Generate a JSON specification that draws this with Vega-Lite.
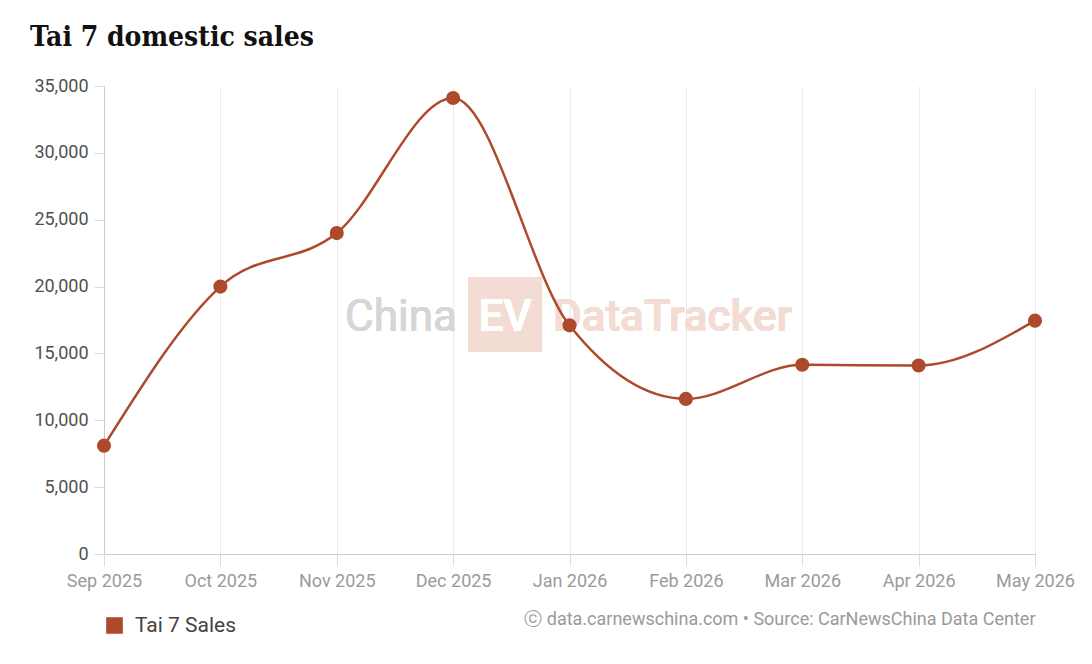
{
  "$schema": "https://vega.github.io/schema/vega-lite/v6.json",
  "width": 931,
  "height": 468,
  "autosize": {"type": "none"},
  "padding": {"left": 104, "top": 86, "right": 57, "bottom": 110},
  "background": "white",
  "title": {
    "text": "Tai 7 domestic sales",
    "anchor": "start",
    "frame": "group",
    "font": "DejaVu Serif Condensed",
    "fontSize": 28,
    "fontWeight": "bold",
    "color": "#111111",
    "dx": -74,
    "offset": 25
  },
  "config": {
    "view": {"stroke": null},
    "font": "Roboto"
  },
  "data": {
    "values": [
      {"month": "Sep 2025", "sales": 8100, "series": "Tai 7 Sales"},
      {"month": "Oct 2025", "sales": 20000, "series": "Tai 7 Sales"},
      {"month": "Nov 2025", "sales": 24000, "series": "Tai 7 Sales"},
      {"month": "Dec 2025", "sales": 34100, "series": "Tai 7 Sales"},
      {"month": "Jan 2026", "sales": 17100, "series": "Tai 7 Sales"},
      {"month": "Feb 2026", "sales": 11600, "series": "Tai 7 Sales"},
      {"month": "Mar 2026", "sales": 14150, "series": "Tai 7 Sales"},
      {"month": "Apr 2026", "sales": 14100, "series": "Tai 7 Sales"},
      {"month": "May 2026", "sales": 17450, "series": "Tai 7 Sales"}
    ]
  },
  "layer": [
    {
      "layer": [
        {
          "mark": {"type": "rect", "color": "#f3dcd3"},
          "encoding": {
            "x": {"datum": 3.128, "type": "quantitative", "scale": {"domain": [0, 8]}, "axis": null},
            "x2": {"datum": 3.764},
            "y": {"datum": 20720, "type": "quantitative"},
            "y2": {"datum": 15110}
          }
        },
        {
          "mark": {"type": "text", "text": "China", "fontSize": 44, "color": "#d6d6d6", "align": "center", "baseline": "alphabetic"},
          "encoding": {
            "x": {"datum": 2.552, "type": "quantitative"},
            "y": {"datum": 16650, "type": "quantitative"}
          }
        },
        {
          "mark": {"type": "text", "text": "EV", "fontSize": 44, "fontWeight": 500, "color": "#ffffff", "align": "center", "baseline": "alphabetic"},
          "encoding": {
            "x": {"datum": 3.446, "type": "quantitative"},
            "y": {"datum": 16650, "type": "quantitative"}
          }
        },
        {
          "mark": {"type": "text", "text": "DataTracker", "fontSize": 44, "fontWeight": 500, "color": "#f3dcd3", "align": "left", "baseline": "alphabetic"},
          "encoding": {
            "x": {"datum": 3.858, "type": "quantitative"},
            "y": {"datum": 16650, "type": "quantitative"}
          }
        }
      ]
    },
    {
      "mark": {
        "type": "line",
        "interpolate": "monotone",
        "strokeWidth": 2.5,
        "point": {"filled": true, "size": 200, "opacity": 1}
      },
      "encoding": {
        "x": {
          "field": "month",
          "type": "ordinal",
          "sort": null,
          "scale": {"type": "point", "padding": 0},
          "axis": {
            "orient": "bottom",
            "labelAngle": 0,
            "labelFontSize": 18,
            "labelColor": "#9a9a9a",
            "labelPadding": 6,
            "tickColor": "#dddddd",
            "tickSize": 12,
            "domainColor": "#cccccc",
            "grid": true,
            "gridColor": "#ebebeb",
            "title": "ⓒ data.carnewschina.com • Source: CarNewsChina Data Center",
            "titleFontSize": 18,
            "titleFontWeight": "normal",
            "titleColor": "#9a9a9a",
            "titleAnchor": "end",
            "titleAlign": "right",
            "titleBaseline": "middle",
            "titleX": 931,
            "titleY": 65
          }
        },
        "y": {
          "field": "sales",
          "type": "quantitative",
          "scale": {"domain": [0, 35000], "nice": false},
          "axis": {
            "values": [0, 5000, 10000, 15000, 20000, 25000, 30000, 35000],
            "format": ",d",
            "title": null,
            "labelFontSize": 18,
            "labelColor": "#505050",
            "labelPadding": 6,
            "tickColor": "#dddddd",
            "tickSize": 10,
            "domainColor": "#cccccc",
            "gridColor": "#ebebeb"
          }
        },
        "color": {
          "field": "series",
          "type": "nominal",
          "scale": {"range": ["#ad4a2c"]},
          "legend": {
            "title": null,
            "orient": "none",
            "legendX": 0,
            "legendY": 529,
            "symbolType": "square",
            "symbolSize": 230,
            "symbolFillColor": "#ad4a2c",
            "symbolStrokeColor": "#ad4a2c",
            "labelFontSize": 21,
            "labelColor": "#444444",
            "labelOffset": 10
          }
        }
      }
    }
  ],
  "resolve": {"scale": {"x": "independent"}}
}
